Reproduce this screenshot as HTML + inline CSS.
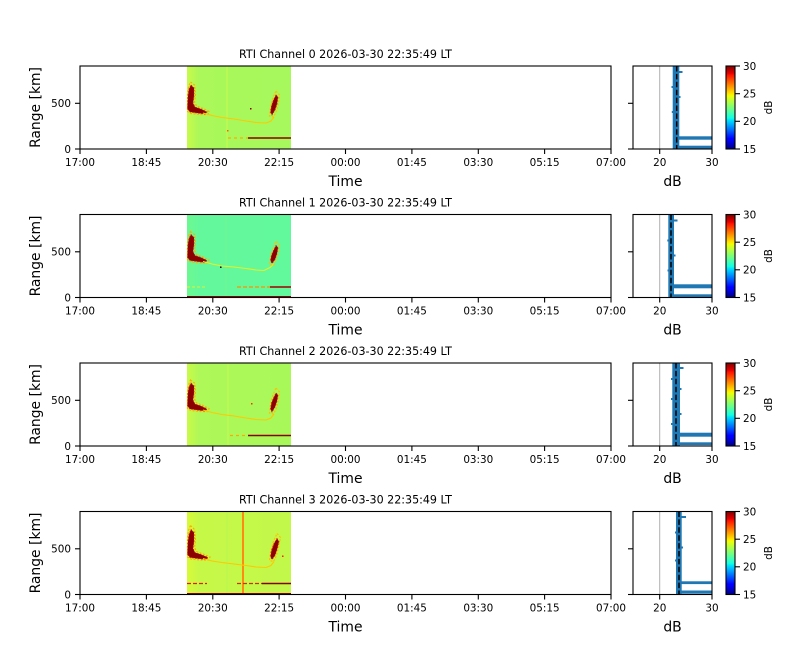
<!DOCTYPE html>
<html><head><meta charset="utf-8">
<style>
html,body{margin:0;padding:0;background:#fff;}
svg{display:block;font-family:"DejaVu Sans","Liberation Sans",sans-serif;}
</style></head>
<body>
<svg width="800" height="660" viewBox="0 0 800 660" xmlns="http://www.w3.org/2000/svg">
<defs>
<linearGradient id="jet" x1="0" y1="1" x2="0" y2="0">
<stop offset="0" stop-color="#000080"/>
<stop offset="0.11" stop-color="#0000ff"/>
<stop offset="0.125" stop-color="#0000ff"/>
<stop offset="0.34" stop-color="#00dbff"/>
<stop offset="0.35" stop-color="#00e6f7"/>
<stop offset="0.375" stop-color="#15ffe2"/>
<stop offset="0.64" stop-color="#eeff08"/>
<stop offset="0.65" stop-color="#f7f600"/>
<stop offset="0.66" stop-color="#ffec00"/>
<stop offset="0.89" stop-color="#ff1300"/>
<stop offset="0.91" stop-color="#e80000"/>
<stop offset="1" stop-color="#800000"/>
</linearGradient>
<linearGradient id="bg1" x1="0" y1="0" x2="1" y2="0">
<stop offset="0" stop-color="#c8fa4a"/>
<stop offset="0.12" stop-color="#aaf85a"/>
<stop offset="1" stop-color="#a6f85c"/>
</linearGradient>
<linearGradient id="bg2" x1="0" y1="0" x2="1" y2="0">
<stop offset="0" stop-color="#6cf890"/>
<stop offset="0.12" stop-color="#64f89c"/>
<stop offset="1" stop-color="#62f89c"/>
</linearGradient>
<linearGradient id="bg3" x1="0" y1="0" x2="1" y2="0">
<stop offset="0" stop-color="#cafa48"/>
<stop offset="0.12" stop-color="#aef858"/>
<stop offset="1" stop-color="#a8f85a"/>
</linearGradient>
<linearGradient id="bg4" x1="0" y1="0" x2="1" y2="0">
<stop offset="0" stop-color="#d8fa38"/>
<stop offset="0.12" stop-color="#c6f848"/>
<stop offset="1" stop-color="#c2f84a"/>
</linearGradient>
</defs>

<!-- ================= PANEL 1 ================= -->
<g transform="translate(0,66)">
<text x="345.5" y="-8" font-size="11.1" text-anchor="middle">RTI Channel 0 2026-03-30 22:35:49 LT</text>
<rect x="187" y="0" width="104" height="83" fill="url(#bg1)"/>
<line x1="227" y1="0" x2="227" y2="83" stroke="#c8fa50" stroke-width="1"/>
<polygon fill="none" stroke="#ffb000" stroke-width="1.2" stroke-dasharray="2,1.5" points="190.5,16 194.5,19 195.5,28 194.5,36 196.5,40 203,42.5 209,45.5 208,48.5 200,48.5 191,47.5 187.5,45.5 187.5,28 188.5,21"/>
<polygon fill="#8b0000" stroke="#e01000" stroke-width="0.8" stroke-dasharray="1.5,1.5" points="191,19 194,22 194,30 193,37 195,41 201,43 207,46 205,48 197,47 190,46 187.5,43 188,30 189,23"/>
<polyline points="203,47 212,49.5 222,51.5 234,53 246,55 256,56.5 266,57 271,55 274,51" fill="none" stroke="#ffc800" stroke-width="1.1"/>
<polygon fill="none" stroke="#ffc000" stroke-width="1.2" stroke-dasharray="2,1.5" points="276,25 279.5,29 278.5,37 276.5,45 273.5,51 269.5,50 270.5,42 272.5,33"/>
<polygon fill="#8b0000" stroke="#e01000" stroke-width="0.8" stroke-dasharray="1.5,1.5" points="276,29 278,31 277,38 275,44 272,49 270.5,46 271.5,40 273.5,34"/>
<line x1="228" y1="72" x2="248" y2="72" stroke="#ffaa00" stroke-width="1.2" stroke-dasharray="3,3"/>
<line x1="248" y1="72" x2="291" y2="72" stroke="#8b0000" stroke-width="1.6"/>
<rect x="250" y="42" width="1.5" height="1.5" fill="#8b0000"/>
<rect x="227" y="64" width="1.5" height="1.5" fill="#ff6000"/>
<rect x="80" y="0" width="531" height="83" fill="none" stroke="#000" stroke-width="1.1"/>
<g stroke="#000" stroke-width="1.1">
<line x1="80" y1="83" x2="80" y2="88"/><line x1="146.4" y1="83" x2="146.4" y2="88"/><line x1="212.8" y1="83" x2="212.8" y2="88"/><line x1="279.1" y1="83" x2="279.1" y2="88"/><line x1="345.5" y1="83" x2="345.5" y2="88"/><line x1="411.9" y1="83" x2="411.9" y2="88"/><line x1="478.3" y1="83" x2="478.3" y2="88"/><line x1="544.6" y1="83" x2="544.6" y2="88"/><line x1="611" y1="83" x2="611" y2="88"/>
<line x1="75" y1="83" x2="80" y2="83"/><line x1="75" y1="37.3" x2="80" y2="37.3"/>
</g>
<g font-size="10.4" text-anchor="middle">
<text x="80" y="100">17:00</text><text x="146.4" y="100">18:45</text><text x="212.8" y="100">20:30</text><text x="279.1" y="100">22:15</text><text x="345.5" y="100">00:00</text><text x="411.9" y="100">01:45</text><text x="478.3" y="100">03:30</text><text x="544.6" y="100">05:15</text><text x="611" y="100">07:00</text>
</g>
<g font-size="10.4" text-anchor="end"><text x="71" y="86.8">0</text><text x="71" y="41.1">500</text></g>
<text x="345.5" y="120" font-size="13.9" text-anchor="middle">Time</text>
<text transform="translate(40,41.5) rotate(-90)" font-size="13.9" text-anchor="middle">Range [km]</text>
<line x1="659.7" y1="0" x2="659.7" y2="83" stroke="#b0b0b0" stroke-width="1"/>
<rect x="672.7" y="0" width="6.6" height="83" fill="#1f77b4"/>
<rect x="671.5" y="20" width="2" height="2" fill="#1f77b4"/><rect x="671.8" y="45" width="2" height="2" fill="#1f77b4"/><rect x="678.5" y="30" width="2" height="2" fill="#1f77b4"/><rect x="678.5" y="5" width="4" height="2" fill="#1f77b4"/>
<rect x="679" y="70.3" width="33" height="3.4" fill="#1f77b4"/>
<rect x="678" y="79.7" width="34" height="3" fill="#1f77b4"/>
<line x1="676.7" y1="0" x2="676.7" y2="83" stroke="#000" stroke-width="1.5" stroke-dasharray="5.5,2.4"/>
<rect x="633" y="0" width="79" height="83" fill="none" stroke="#000" stroke-width="1.1"/>
<g stroke="#000" stroke-width="1.1">
<line x1="659.7" y1="83" x2="659.7" y2="88"/><line x1="712" y1="83" x2="712" y2="88"/>
<line x1="628" y1="83" x2="633" y2="83"/><line x1="628" y1="37.3" x2="633" y2="37.3"/>
</g>
<g font-size="10.4" text-anchor="middle"><text x="659.7" y="100">20</text><text x="712" y="100">30</text></g>
<text x="672.5" y="120" font-size="13.9" text-anchor="middle">dB</text>
<rect x="726" y="0" width="9" height="83" fill="url(#jet)" stroke="#000" stroke-width="1.1"/>
<g stroke="#000" stroke-width="1.1">
<line x1="735" y1="0" x2="740" y2="0"/><line x1="735" y1="27.7" x2="740" y2="27.7"/><line x1="735" y1="55.3" x2="740" y2="55.3"/><line x1="735" y1="83" x2="740" y2="83"/>
</g>
<g font-size="10.4"><text x="743" y="3.8">30</text><text x="743" y="31.5">25</text><text x="743" y="59.1">20</text><text x="743" y="86.8">15</text></g>
<text transform="translate(772,41.5) rotate(-90)" font-size="10.4" text-anchor="middle">dB</text>
</g>

<!-- ================= PANEL 2 ================= -->
<g transform="translate(0,214.5)">
<text x="345.5" y="-8" font-size="11.1" text-anchor="middle">RTI Channel 1 2026-03-30 22:35:49 LT</text>
<rect x="187" y="0" width="104" height="83" fill="url(#bg2)"/>
<line x1="226" y1="0" x2="226" y2="83" stroke="#70f890" stroke-width="1"/>
<polygon fill="none" stroke="#ffb000" stroke-width="1.2" stroke-dasharray="2,1.5" points="190.5,17 194.5,20 195.5,28 194.5,36 196.5,40 203,42.5 209,45.5 208,48.5 200,48.5 191,47.5 187.5,45.5 187.5,28 188.5,22"/>
<polygon fill="#8b0000" stroke="#e01000" stroke-width="0.8" stroke-dasharray="1.5,1.5" points="191,20 194,23 194,30 193,37 195,41 201,43 207,46 205,48 197,47 190,46 187.5,43 188,30 189,24"/>
<polyline points="203,47 212,49.5 222,51.5 234,52.5 246,54 256,55.5 264,56 270,53 274,49" fill="none" stroke="#e8f020" stroke-width="1.1"/>
<polygon fill="none" stroke="#ffc000" stroke-width="1.2" stroke-dasharray="2,1.5" points="276,27 279.5,30 278.5,38 276.5,45 273.5,51 269.5,50 270.5,42 272.5,35"/>
<polygon fill="#8b0000" stroke="#e01000" stroke-width="0.8" stroke-dasharray="1.5,1.5" points="276,31 278,33 277,39 275,45 272,49 270.5,46 271.5,41 273.5,36"/>
<line x1="187" y1="72.5" x2="207" y2="72.5" stroke="#e0f030" stroke-width="1" stroke-dasharray="3,2"/>
<line x1="237" y1="72.5" x2="270" y2="72.5" stroke="#ff9000" stroke-width="1.2" stroke-dasharray="4,2"/>
<line x1="270" y1="72.5" x2="291" y2="72.5" stroke="#a00000" stroke-width="1.6"/>
<rect x="187" y="81.5" width="104" height="1.5" fill="#8b0000"/>
<rect x="220" y="52" width="1.5" height="1.5" fill="#000"/>
<rect x="80" y="0" width="531" height="83" fill="none" stroke="#000" stroke-width="1.1"/>
<g stroke="#000" stroke-width="1.1">
<line x1="80" y1="83" x2="80" y2="88"/><line x1="146.4" y1="83" x2="146.4" y2="88"/><line x1="212.8" y1="83" x2="212.8" y2="88"/><line x1="279.1" y1="83" x2="279.1" y2="88"/><line x1="345.5" y1="83" x2="345.5" y2="88"/><line x1="411.9" y1="83" x2="411.9" y2="88"/><line x1="478.3" y1="83" x2="478.3" y2="88"/><line x1="544.6" y1="83" x2="544.6" y2="88"/><line x1="611" y1="83" x2="611" y2="88"/>
<line x1="75" y1="83" x2="80" y2="83"/><line x1="75" y1="37.3" x2="80" y2="37.3"/>
</g>
<g font-size="10.4" text-anchor="middle">
<text x="80" y="100">17:00</text><text x="146.4" y="100">18:45</text><text x="212.8" y="100">20:30</text><text x="279.1" y="100">22:15</text><text x="345.5" y="100">00:00</text><text x="411.9" y="100">01:45</text><text x="478.3" y="100">03:30</text><text x="544.6" y="100">05:15</text><text x="611" y="100">07:00</text>
</g>
<g font-size="10.4" text-anchor="end"><text x="71" y="86.8">0</text><text x="71" y="41.1">500</text></g>
<text x="345.5" y="120" font-size="13.9" text-anchor="middle">Time</text>
<text transform="translate(40,41.5) rotate(-90)" font-size="13.9" text-anchor="middle">Range [km]</text>
<line x1="659.7" y1="0" x2="659.7" y2="83" stroke="#b0b0b0" stroke-width="1"/>
<rect x="668.3" y="0" width="5.7" height="83" fill="#1f77b4"/>
<rect x="667.3" y="25" width="2" height="2" fill="#1f77b4"/><rect x="667.5" y="55" width="2" height="2" fill="#1f77b4"/><rect x="673.5" y="40" width="2" height="2" fill="#1f77b4"/><rect x="673.5" y="5" width="4" height="2" fill="#1f77b4"/>
<rect x="674" y="69.8" width="38" height="4" fill="#1f77b4"/>
<rect x="674" y="79.8" width="38" height="2.8" fill="#1f77b4"/>
<line x1="671" y1="0" x2="671" y2="83" stroke="#000" stroke-width="1.5" stroke-dasharray="5.5,2.4"/>
<rect x="633" y="0" width="79" height="83" fill="none" stroke="#000" stroke-width="1.1"/>
<g stroke="#000" stroke-width="1.1">
<line x1="659.7" y1="83" x2="659.7" y2="88"/><line x1="712" y1="83" x2="712" y2="88"/>
<line x1="628" y1="83" x2="633" y2="83"/><line x1="628" y1="37.3" x2="633" y2="37.3"/>
</g>
<g font-size="10.4" text-anchor="middle"><text x="659.7" y="100">20</text><text x="712" y="100">30</text></g>
<text x="672.5" y="120" font-size="13.9" text-anchor="middle">dB</text>
<rect x="726" y="0" width="9" height="83" fill="url(#jet)" stroke="#000" stroke-width="1.1"/>
<g stroke="#000" stroke-width="1.1">
<line x1="735" y1="0" x2="740" y2="0"/><line x1="735" y1="27.7" x2="740" y2="27.7"/><line x1="735" y1="55.3" x2="740" y2="55.3"/><line x1="735" y1="83" x2="740" y2="83"/>
</g>
<g font-size="10.4"><text x="743" y="3.8">30</text><text x="743" y="31.5">25</text><text x="743" y="59.1">20</text><text x="743" y="86.8">15</text></g>
<text transform="translate(772,41.5) rotate(-90)" font-size="10.4" text-anchor="middle">dB</text>
</g>

<!-- ================= PANEL 3 ================= -->
<g transform="translate(0,363)">
<text x="345.5" y="-8" font-size="11.1" text-anchor="middle">RTI Channel 2 2026-03-30 22:35:49 LT</text>
<rect x="187" y="0" width="104" height="83" fill="url(#bg3)"/>
<line x1="228" y1="0" x2="228" y2="83" stroke="#c8fa50" stroke-width="1"/>
<polygon fill="none" stroke="#ffb000" stroke-width="1.2" stroke-dasharray="2,1.5" points="190.5,17 194.5,20 195.5,28 194.5,36 196.5,40 203,42.5 209,45.5 208,48.5 200,48.5 191,47.5 187.5,45.5 187.5,28 188.5,22"/>
<polygon fill="#8b0000" stroke="#e01000" stroke-width="0.8" stroke-dasharray="1.5,1.5" points="191,20 194,23 194,30 193,37 195,41 201,43 207,46 205,48 197,47 190,46 187.5,43 188,30 189,24"/>
<polyline points="203,47 212,49.5 222,51.5 234,53 246,55 256,56.5 266,57 271,55 274,51" fill="none" stroke="#ffc800" stroke-width="1.1"/>
<polygon fill="none" stroke="#ffc000" stroke-width="1.2" stroke-dasharray="2,1.5" points="276,25 279.5,29 278.5,37 276.5,45 273.5,51 269.5,50 270.5,42 272.5,33"/>
<polygon fill="#8b0000" stroke="#e01000" stroke-width="0.8" stroke-dasharray="1.5,1.5" points="276,30 278,32 277,38 275,44 272,49 270.5,46 271.5,40 273.5,35"/>
<line x1="230" y1="72.5" x2="248" y2="72.5" stroke="#ffaa00" stroke-width="1.2" stroke-dasharray="3,3"/>
<line x1="248" y1="72.5" x2="291" y2="72.5" stroke="#8b0000" stroke-width="1.6"/>
<rect x="251" y="40" width="1.5" height="1.5" fill="#ff3000"/>
<rect x="80" y="0" width="531" height="83" fill="none" stroke="#000" stroke-width="1.1"/>
<g stroke="#000" stroke-width="1.1">
<line x1="80" y1="83" x2="80" y2="88"/><line x1="146.4" y1="83" x2="146.4" y2="88"/><line x1="212.8" y1="83" x2="212.8" y2="88"/><line x1="279.1" y1="83" x2="279.1" y2="88"/><line x1="345.5" y1="83" x2="345.5" y2="88"/><line x1="411.9" y1="83" x2="411.9" y2="88"/><line x1="478.3" y1="83" x2="478.3" y2="88"/><line x1="544.6" y1="83" x2="544.6" y2="88"/><line x1="611" y1="83" x2="611" y2="88"/>
<line x1="75" y1="83" x2="80" y2="83"/><line x1="75" y1="37.3" x2="80" y2="37.3"/>
</g>
<g font-size="10.4" text-anchor="middle">
<text x="80" y="100">17:00</text><text x="146.4" y="100">18:45</text><text x="212.8" y="100">20:30</text><text x="279.1" y="100">22:15</text><text x="345.5" y="100">00:00</text><text x="411.9" y="100">01:45</text><text x="478.3" y="100">03:30</text><text x="544.6" y="100">05:15</text><text x="611" y="100">07:00</text>
</g>
<g font-size="10.4" text-anchor="end"><text x="71" y="86.8">0</text><text x="71" y="41.1">500</text></g>
<text x="345.5" y="120" font-size="13.9" text-anchor="middle">Time</text>
<text transform="translate(40,41.5) rotate(-90)" font-size="13.9" text-anchor="middle">Range [km]</text>
<line x1="659.7" y1="0" x2="659.7" y2="83" stroke="#b0b0b0" stroke-width="1"/>
<rect x="672.3" y="0" width="7.7" height="83" fill="#1f77b4"/>
<rect x="671" y="15" width="2" height="2" fill="#1f77b4"/><rect x="671" y="35" width="2" height="2" fill="#1f77b4"/><rect x="671" y="60" width="2" height="2" fill="#1f77b4"/><rect x="679.5" y="25" width="2" height="2" fill="#1f77b4"/><rect x="679.5" y="50" width="2" height="2" fill="#1f77b4"/><rect x="679.5" y="4" width="4" height="2" fill="#1f77b4"/>
<rect x="680" y="69.7" width="32" height="4" fill="#1f77b4"/>
<rect x="679" y="79.3" width="33" height="2.8" fill="#1f77b4"/>
<line x1="676" y1="0" x2="676" y2="83" stroke="#000" stroke-width="1.5" stroke-dasharray="5.5,2.4"/>
<rect x="633" y="0" width="79" height="83" fill="none" stroke="#000" stroke-width="1.1"/>
<g stroke="#000" stroke-width="1.1">
<line x1="659.7" y1="83" x2="659.7" y2="88"/><line x1="712" y1="83" x2="712" y2="88"/>
<line x1="628" y1="83" x2="633" y2="83"/><line x1="628" y1="37.3" x2="633" y2="37.3"/>
</g>
<g font-size="10.4" text-anchor="middle"><text x="659.7" y="100">20</text><text x="712" y="100">30</text></g>
<text x="672.5" y="120" font-size="13.9" text-anchor="middle">dB</text>
<rect x="726" y="0" width="9" height="83" fill="url(#jet)" stroke="#000" stroke-width="1.1"/>
<g stroke="#000" stroke-width="1.1">
<line x1="735" y1="0" x2="740" y2="0"/><line x1="735" y1="27.7" x2="740" y2="27.7"/><line x1="735" y1="55.3" x2="740" y2="55.3"/><line x1="735" y1="83" x2="740" y2="83"/>
</g>
<g font-size="10.4"><text x="743" y="3.8">30</text><text x="743" y="31.5">25</text><text x="743" y="59.1">20</text><text x="743" y="86.8">15</text></g>
<text transform="translate(772,41.5) rotate(-90)" font-size="10.4" text-anchor="middle">dB</text>
</g>

<!-- ================= PANEL 4 ================= -->
<g transform="translate(0,511.5)">
<text x="345.5" y="-8" font-size="11.1" text-anchor="middle">RTI Channel 3 2026-03-30 22:35:49 LT</text>
<rect x="187" y="0" width="104" height="83" fill="url(#bg4)"/>
<line x1="227" y1="0" x2="227" y2="83" stroke="#b8f850" stroke-width="1"/>
<rect x="242" y="0" width="2" height="83" fill="#ff8c10"/>
<polygon fill="none" stroke="#ffb000" stroke-width="1.2" stroke-dasharray="2,1.5" points="190.5,14 194.5,18 195.5,28 194.5,36 196.5,40 203,42.5 210,45.5 209,48.5 200,48.5 191,47.5 187.5,45.5 187.5,26 188.5,19"/>
<polygon fill="#8b0000" stroke="#e01000" stroke-width="0.8" stroke-dasharray="1.5,1.5" points="191,18 194,21 194,30 193,37 195,41 201,43 208,46 206,48 197,47 190,46 187.5,43 188,30 189,23"/>
<polyline points="203,47 212,49.5 222,51 234,52.5 246,54 256,55.5 266,56 271,54 274,50" fill="none" stroke="#ffc800" stroke-width="1.1"/>
<polygon fill="none" stroke="#ffc000" stroke-width="1.2" stroke-dasharray="2,1.5" points="277,22 280.5,26 278.5,36 276.5,44 273.5,50 269.5,49 270.5,41 273,31"/>
<polygon fill="#8b0000" stroke="#e01000" stroke-width="0.8" stroke-dasharray="1.5,1.5" points="277,27 279,30 277,38 275,44 272,48 270.5,45 271.5,39 274,32"/>
<line x1="187" y1="72" x2="207" y2="72" stroke="#e02000" stroke-width="1.2" stroke-dasharray="4,2"/>
<line x1="237" y1="72" x2="262" y2="72" stroke="#d03000" stroke-width="1.2" stroke-dasharray="4,2"/>
<line x1="262" y1="72" x2="291" y2="72" stroke="#8b0000" stroke-width="1.6"/>
<rect x="187" y="81.5" width="104" height="1.5" fill="#8b0000"/>
<rect x="282" y="44" width="1.5" height="1.5" fill="#ff2000"/>
<rect x="80" y="0" width="531" height="83" fill="none" stroke="#000" stroke-width="1.1"/>
<g stroke="#000" stroke-width="1.1">
<line x1="80" y1="83" x2="80" y2="88"/><line x1="146.4" y1="83" x2="146.4" y2="88"/><line x1="212.8" y1="83" x2="212.8" y2="88"/><line x1="279.1" y1="83" x2="279.1" y2="88"/><line x1="345.5" y1="83" x2="345.5" y2="88"/><line x1="411.9" y1="83" x2="411.9" y2="88"/><line x1="478.3" y1="83" x2="478.3" y2="88"/><line x1="544.6" y1="83" x2="544.6" y2="88"/><line x1="611" y1="83" x2="611" y2="88"/>
<line x1="75" y1="83" x2="80" y2="83"/><line x1="75" y1="37.3" x2="80" y2="37.3"/>
</g>
<g font-size="10.4" text-anchor="middle">
<text x="80" y="100">17:00</text><text x="146.4" y="100">18:45</text><text x="212.8" y="100">20:30</text><text x="279.1" y="100">22:15</text><text x="345.5" y="100">00:00</text><text x="411.9" y="100">01:45</text><text x="478.3" y="100">03:30</text><text x="544.6" y="100">05:15</text><text x="611" y="100">07:00</text>
</g>
<g font-size="10.4" text-anchor="end"><text x="71" y="86.8">0</text><text x="71" y="41.1">500</text></g>
<text x="345.5" y="120" font-size="13.9" text-anchor="middle">Time</text>
<text transform="translate(40,41.5) rotate(-90)" font-size="13.9" text-anchor="middle">Range [km]</text>
<line x1="659.7" y1="0" x2="659.7" y2="83" stroke="#b0b0b0" stroke-width="1"/>
<rect x="676" y="0" width="5.7" height="83" fill="#1f77b4"/>
<rect x="675" y="20" width="2" height="2" fill="#1f77b4"/><rect x="675" y="48" width="2" height="2" fill="#1f77b4"/><rect x="681" y="35" width="2" height="2" fill="#1f77b4"/><rect x="681" y="4.5" width="5" height="2" fill="#1f77b4"/>
<rect x="681" y="69.8" width="31" height="2.8" fill="#1f77b4"/>
<rect x="680" y="79" width="32" height="3.2" fill="#1f77b4"/>
<line x1="679" y1="0" x2="679" y2="83" stroke="#000" stroke-width="1.5" stroke-dasharray="5.5,2.4"/>
<rect x="633" y="0" width="79" height="83" fill="none" stroke="#000" stroke-width="1.1"/>
<g stroke="#000" stroke-width="1.1">
<line x1="659.7" y1="83" x2="659.7" y2="88"/><line x1="712" y1="83" x2="712" y2="88"/>
<line x1="628" y1="83" x2="633" y2="83"/><line x1="628" y1="37.3" x2="633" y2="37.3"/>
</g>
<g font-size="10.4" text-anchor="middle"><text x="659.7" y="100">20</text><text x="712" y="100">30</text></g>
<text x="672.5" y="120" font-size="13.9" text-anchor="middle">dB</text>
<rect x="726" y="0" width="9" height="83" fill="url(#jet)" stroke="#000" stroke-width="1.1"/>
<g stroke="#000" stroke-width="1.1">
<line x1="735" y1="0" x2="740" y2="0"/><line x1="735" y1="27.7" x2="740" y2="27.7"/><line x1="735" y1="55.3" x2="740" y2="55.3"/><line x1="735" y1="83" x2="740" y2="83"/>
</g>
<g font-size="10.4"><text x="743" y="3.8">30</text><text x="743" y="31.5">25</text><text x="743" y="59.1">20</text><text x="743" y="86.8">15</text></g>
<text transform="translate(772,41.5) rotate(-90)" font-size="10.4" text-anchor="middle">dB</text>
</g>
</svg>
</body></html>
